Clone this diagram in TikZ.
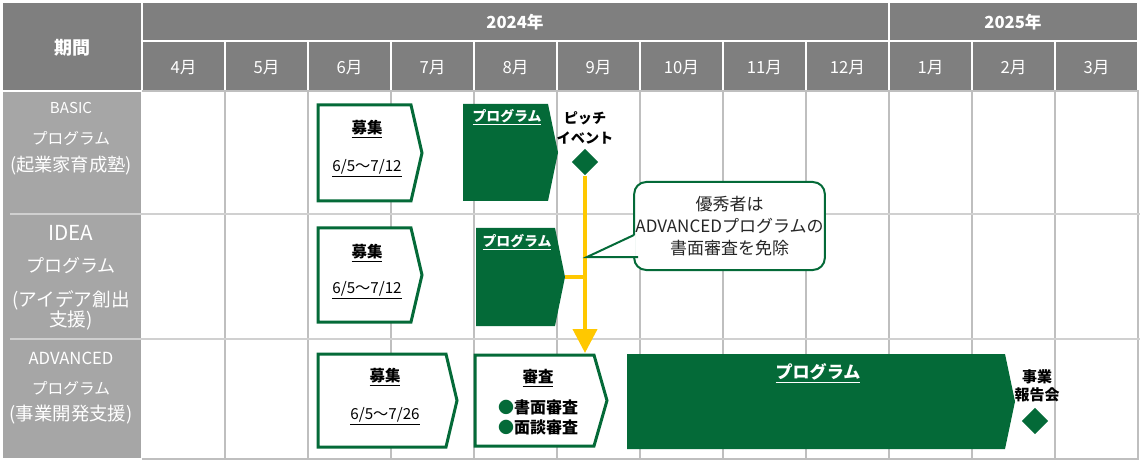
\documentclass[tikz,border=0pt]{standalone}
\usepackage{fontspec}
\setmainfont{Noto Sans CJK JP}
\usetikzlibrary{shapes.geometric,arrows.meta}
\definecolor{hdr}{HTML}{7F7F7F}
\definecolor{lbl}{HTML}{A6A6A6}
\definecolor{gridc}{HTML}{BFBFBF}
\definecolor{sepc}{HTML}{D0D0D0}
\definecolor{grn}{HTML}{046A38}
\definecolor{ylw}{HTML}{FFC800}
\newcommand\fsz[1]{\fontsize{#1pt}{#1pt}\selectfont}
\newcommand\fszb[2]{\fontsize{#1pt}{#2pt}\selectfont}
\newcommand\chevpath[6]{% x0,y0,x1,y1,tip,style
  \path[#6] (#1,#2) -- (#3,#2) -- (#5,{(#2+#4)/2}) -- (#3,#4) -- (#1,#4) -- cycle;}
\tikzset{
  hdrcell/.style={fill=hdr},
  wtxt/.style={text=white,inner sep=0pt,anchor=center},
  btxt/.style={text=black,inner sep=0pt,anchor=center},
  gridline/.style={draw=gridc,line width=1.5pt},
  sepline/.style={draw=sepc,line width=2pt},
  chevw/.style={draw=grn,fill=white,line width=2.25pt,line join=miter},
  chevg/.style={fill=grn},
  milestone/.style={diamond,fill=grn,inner sep=0pt,minimum width=20pt,minimum height=20pt},
  flow/.style={draw=ylw,line width=3pt},
  note/.style={draw=grn,fill=white,line width=1.5pt,rounded corners=9pt,inner sep=0pt,
    minimum width=143pt,minimum height=66pt,align=center,font=\fszb{12.75}{16.5},text=black!85},
}
\begin{document}
\begin{tikzpicture}[x=0.75pt,y=-0.75pt]
\useasboundingbox (0,0) rectangle (1148,463);
% header
\fill[hdrcell] (3,3) rectangle (141,90);
\node[wtxt,font=\bfseries\fsz{13.5}] (kikan) at (72,48) {期間};
\fill[hdrcell] (143,3) rectangle (888,40);
\node[wtxt,font=\bfseries\fsz{12.5}] (y2024) at (515,22) {2024年};
\fill[hdrcell] (890,3) rectangle (1137,40);
\node[wtxt,font=\bfseries\fsz{12.5}] (y2025) at (1013,22) {2025年};
\foreach \m [count=\k from 0] in {4,5,6,7,8,9,10,11,12,1,2,3}{
  \fill[hdrcell] ({143+83*\k},42) rectangle ({141+83*(\k+1)},90);
  \node[wtxt,font=\fsz{12.5}] (m\k) at ({183.5+83*\k},68) {\m 月};
}
% label column
\fill[lbl] (3,92) rectangle (141,458);
% grid
\foreach \k in {1,...,12}{
  \draw[gridline] ({142+83*\k},91) -- ({142+83*\k},460);
}
\draw[gridline] (142,91) -- (1139,91);
\draw[sepline] (10,214) -- (1140,214);
\draw[sepline] (10,339) -- (1140,339);
\draw[gridline] (142,459) -- (1139,459);
% labels
\node[wtxt,font=\fsz{11.3}] (lb1) at (71,108) {BASIC};
\node[wtxt,font=\fsz{11.8}] (lb2) at (71,138) {プログラム};
\node[wtxt,font=\fsz{13.7}] (lb3) at (71,166) {(起業家育成塾)};
\node[wtxt,font=\fsz{15.5}] (li1) at (71,233) {IDEA};
\node[wtxt,font=\fsz{13.5}] (li2) at (71,266) {プログラム};
\node[wtxt,font=\fsz{14}] (li3) at (71,300) {(アイデア創出};
\node[wtxt,font=\fsz{14}] (li4) at (71,320) {支援)};
\node[wtxt,font=\fsz{12.5}] (la1) at (71,358) {ADVANCED};
\node[wtxt,font=\fsz{11.8}] (la2) at (71,388) {プログラム};
\node[wtxt,font=\fsz{13.8}] (la3) at (71,415) {(事業開発支援)};
% BASIC row
\chevpath{318}{105}{411}{201}{422}{chevw}
\node[btxt,font=\bfseries\fsz{11.6}] (bboshu) at (367,129) {\underline{募集}};
\node[btxt,font=\fsz{11.4}] (bdate) at (367,168) {\underline{6/5～7/12}};
\chevpath{463}{104}{548}{201}{558}{chevg}
\node[wtxt,font=\bfseries\fsz{10.4}] (bprog) at (507,117) {\underline{プログラム}};
\node[btxt,font=\bfseries\fszb{10.6}{15},align=center] (pitchtxt) at (585,128) {ピッチ\\イベント};
\node[milestone] (pitch) at (585,162) {};
% IDEA row
\chevpath{318}{228}{411}{322}{422}{chevw}
\node[btxt,font=\bfseries\fsz{11.6}] (iboshu) at (367,253) {\underline{募集}};
\node[btxt,font=\fsz{11.4}] (idate) at (367,290) {\underline{6/5～7/12}};
\chevpath{476}{228}{555}{326}{565}{chevg}
\coordinate (iprogtip) at (565,277);
\node[wtxt,font=\bfseries\fsz{10.4}] (iprog) at (517,242) {\underline{プログラム}};
% ADVANCED row
\chevpath{318}{354}{446}{447}{457}{chevw}
\node[btxt,font=\bfseries\fsz{11.6}] (aboshu) at (385,377) {\underline{募集}};
\node[btxt,font=\fsz{11.4}] (adate) at (385,416) {\underline{6/5～7/26}};
\chevpath{475}{355}{594}{446}{607}{chevw}
\coordinate (shinsatop) at (585,353);
\node[btxt,font=\bfseries\fsz{11.6}] (shinsa) at (538,378) {\underline{審査}};
\node[btxt,font=\bfseries\fszb{12}{15},align=left] (shinsalist) at (538,417)
  {\textcolor{grn}{●}書面審査\\\textcolor{grn}{●}面談審査};
\chevpath{627}{354}{1005}{449}{1015}{chevg}
\node[wtxt,font=\bfseries\fsz{12.8}] (aprog) at (818,373) {\underline{プログラム}};
\node[btxt,font=\bfseries\fszb{11.25}{13.5},align=center] (reporttxt) at (1037,386) {事業\\報告会};
\node[milestone] (report) at (1035,421) {};
% flow
\draw[flow,-{Triangle[width=18pt,length=18pt]}] (pitch.south) -- (shinsatop);
\draw[flow] (iprogtip) -- (iprogtip -| pitch.south);
% callout
\node[note] (callout) at (729.5,226) {優秀者は\\ADVANCEDプログラムの\\書面審査を免除};
\coordinate (calltip) at (587,257);
\fill[white] (635.5,235) -- (calltip) -- (635.5,257) -- cycle;
\draw[draw=grn,line width=1.5pt,line join=miter] (634,235) -- (calltip) -- (638,257);
\end{tikzpicture}
\end{document}
